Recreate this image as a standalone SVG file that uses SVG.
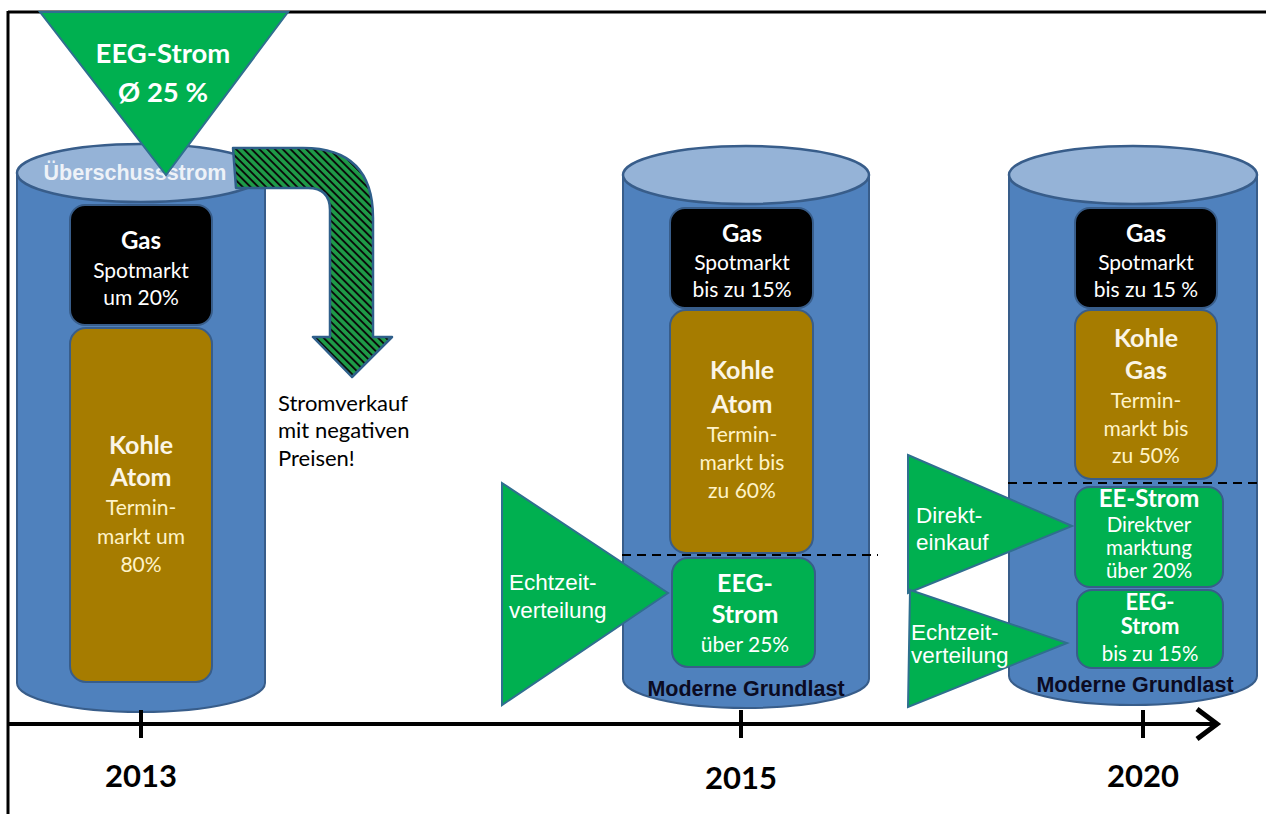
<svg xmlns="http://www.w3.org/2000/svg" width="1266" height="814" viewBox="0 0 1266 814">
<defs>
<pattern id="hatch" patternUnits="userSpaceOnUse" width="5.5" height="5.5" patternTransform="rotate(-45)">
<rect width="5.5" height="5.5" fill="#1E9B47"/>
<rect x="0" y="0" width="1.9" height="5.5" fill="#0a0a0a"/>
</pattern>
</defs>
<style>
.cyl{fill:#4F81BD;stroke:#385D8A;stroke-width:2}
.top{fill:#95B3D7;stroke:#385D8A;stroke-width:2.5}
.gas{fill:#000;stroke:#385D8A;stroke-width:2}
.kohle{fill:#A67C00;stroke:#385D8A;stroke-width:2}
.green{fill:#00B050;stroke:#385D8A;stroke-width:2}
.tri{fill:#00B050;stroke:#2F6F8F;stroke-width:2}
.c{font-family:Lato,"Liberation Sans",sans-serif;text-anchor:middle}
.l{font-family:Lato,"Liberation Sans",sans-serif;text-anchor:start;fill:#000;font-size:22px}
.b{font-weight:bold}
.w{fill:#fff}
.cr{fill:#FFF3C8}
.a{font-family:"Liberation Sans",Arial,sans-serif}
.dash{stroke:#000;stroke-width:2;stroke-dasharray:9 6;fill:none}
.yr{font-family:Lato,"Liberation Sans",sans-serif;font-weight:bold;font-size:31px;text-anchor:middle;fill:#000}
</style>

<g id="frame">
<line x1="8" y1="12" x2="1266" y2="12" stroke="#000" stroke-width="3"/>
<line x1="8" y1="11" x2="8" y2="814" stroke="#000" stroke-width="3"/>
</g>

<g id="cyl2013">
<path class="cyl" d="M17,173 L17,683 A124,29 0 0 0 265,683 L265,173 Z"/>
<ellipse class="top" cx="141" cy="173" rx="124" ry="29"/>
<text class="a b" x="135" y="180" font-size="21.5" fill="#EEF2F8" text-anchor="middle">Überschussstrom</text>
</g>

<g id="gas2013">
<rect class="gas" x="70" y="205" width="142" height="120" rx="15"/>
<text class="c b w" x="141" y="249" font-size="24">Gas</text>
<text class="c w" x="141" y="278" font-size="21">Spotmarkt</text>
<text class="c w" x="141" y="305" font-size="21">um 20%</text>
</g>

<g id="kohle2013">
<rect class="kohle" x="70" y="328" width="142" height="354" rx="16"/>
<text class="c b" x="141" y="454" font-size="25" fill="#FBF5E6">Kohle</text>
<text class="c b" x="141" y="486" font-size="25" fill="#FBF5E6">Atom</text>
<text class="c cr" x="141" y="515" font-size="21">Termin-</text>
<text class="c cr" x="141" y="544" font-size="21">markt um</text>
<text class="c cr" x="141" y="572" font-size="21">80%</text>
</g>

<g id="eeg-triangle">
<polygon class="tri" points="40,12 288,12 166,175"/>
<text class="c b w" x="163" y="63" font-size="27.5">EEG-Strom</text>
<text class="c b w" x="163" y="102" font-size="27.5">Ø 25 %</text>
</g>

<g id="surplus-arrow">
<path d="M233,148 L303,148 Q373,148 373,218 L373,337 L392,337 L352,377 L313,337 L330,337 L330,210 Q330,188 308,188 L236,188 Z" fill="url(#hatch)" stroke="#2F5F8A" stroke-width="2.5" stroke-linejoin="round"/>
</g>

<g id="negative-prices">
<text class="l" x="278" y="411">Stromverkauf</text>
<text class="l" x="278" y="438">mit negativen</text>
<text class="l" x="278" y="466">Preisen!</text>
</g>

<g id="cyl2015">
<path class="cyl" d="M623,175 L623,679 A123,29 0 0 0 869,679 L869,175 Z"/>
<ellipse class="top" cx="746" cy="175" rx="123" ry="29"/>
<text class="a b" x="746" y="696" font-size="21.5" fill="#0b0b22" text-anchor="middle">Moderne Grundlast</text>
</g>

<g id="gas2015">
<rect class="gas" x="670" y="208" width="143" height="100" rx="15"/>
<text class="c b w" x="742" y="242" font-size="24">Gas</text>
<text class="c w" x="742" y="270" font-size="21">Spotmarkt</text>
<text class="c w" x="742" y="297" font-size="21">bis zu 15%</text>
</g>

<g id="kohle2015">
<rect class="kohle" x="670" y="310" width="143" height="243" rx="16"/>
<text class="c b" x="742" y="379" font-size="25" fill="#FBF5E6">Kohle</text>
<text class="c b" x="742" y="413" font-size="25" fill="#FBF5E6">Atom</text>
<text class="c cr" x="742" y="442" font-size="21">Termin-</text>
<text class="c cr" x="742" y="470" font-size="21">markt bis</text>
<text class="c cr" x="742" y="498" font-size="21">zu 60%</text>
</g>

<g id="eeg2015">
<rect class="green" x="672" y="558" width="143" height="109" rx="16"/>
<text class="c b w" x="745" y="592" font-size="25">EEG-</text>
<text class="c b w" x="745" y="623" font-size="25">Strom</text>
<text class="c w" x="745" y="652" font-size="21">über 25%</text>
</g>

<g id="echtzeit2015">
<polygon class="tri" points="502,483 668,593 502,705"/>
<text class="a w" x="509" y="590" font-size="22.5">Echtzeit-</text>
<text class="a w" x="509" y="618" font-size="22.5">verteilung</text>
</g>

<g id="cyl2020">
<path class="cyl" d="M1009,175 L1009,676 A124,29 0 0 0 1257,676 L1257,175 Z"/>
<ellipse class="top" cx="1133" cy="175" rx="124" ry="29"/>
<text class="a b" x="1135" y="692" font-size="21.5" fill="#0b0b22" text-anchor="middle">Moderne Grundlast</text>
</g>

<g id="gas2020">
<rect class="gas" x="1075" y="208" width="142" height="100" rx="15"/>
<text class="c b w" x="1146" y="242" font-size="24">Gas</text>
<text class="c w" x="1146" y="270" font-size="21">Spotmarkt</text>
<text class="c w" x="1146" y="297" font-size="21">bis zu 15 %</text>
</g>

<g id="kohle2020">
<rect class="kohle" x="1075" y="310" width="142" height="169" rx="16"/>
<text class="c b" x="1146" y="347" font-size="25" fill="#FBF5E6">Kohle</text>
<text class="c b" x="1146" y="379" font-size="25" fill="#FBF5E6">Gas</text>
<text class="c cr" x="1146" y="408" font-size="21">Termin-</text>
<text class="c cr" x="1146" y="436" font-size="21">markt bis</text>
<text class="c cr" x="1146" y="463" font-size="21">zu 50%</text>
</g>

<g id="ee2020">
<rect class="green" x="1075" y="487" width="148" height="100" rx="15"/>
<text class="c b w" x="1149" y="507" font-size="24">EE-Strom</text>
<text class="c w" x="1149" y="532" font-size="20.5">Direktver</text>
<text class="c w" x="1149" y="555" font-size="20.5">marktung</text>
<text class="c w" x="1149" y="578" font-size="20.5">über 20%</text>
</g>

<g id="eeg2020">
<rect class="green" x="1077" y="590" width="146" height="78" rx="15"/>
<text class="c b w" x="1150" y="610" font-size="22">EEG-</text>
<text class="c b w" x="1150" y="634" font-size="22">Strom</text>
<text class="c w" x="1150" y="661" font-size="20.5">bis zu 15%</text>
</g>

<g id="direkt2020">
<polygon class="tri" points="908,455 1072,526 908,593"/>
<text class="a w" x="916" y="523" font-size="22.5">Direkt-</text>
<text class="a w" x="916" y="550" font-size="22.5">einkauf</text>
</g>

<g id="echtzeit2020">
<polygon class="tri" points="910,590 1067,643 908,707"/>
<text class="a w" x="911" y="640" font-size="22.5">Echtzeit-</text>
<text class="a w" x="911" y="663" font-size="22.5">verteilung</text>
</g>

<g id="connectors">
<line class="dash" x1="622" y1="555" x2="878" y2="555"/>
<line class="dash" x1="1008" y1="483" x2="1262" y2="483"/>
<line x1="8" y1="724" x2="1216" y2="724" stroke="#000" stroke-width="4"/>
<polyline points="1197,709 1217,724 1197,739" fill="none" stroke="#000" stroke-width="5"/>
<line x1="141" y1="710" x2="141" y2="738" stroke="#000" stroke-width="4"/>
<line x1="741" y1="710" x2="741" y2="738" stroke="#000" stroke-width="4"/>
<line x1="1143" y1="710" x2="1143" y2="738" stroke="#000" stroke-width="4"/>
</g>

<g id="years">
<text class="yr" x="141" y="787">2013</text>
<text class="yr" x="741" y="789">2015</text>
<text class="yr" x="1143" y="787">2020</text>
</g>
</svg>
